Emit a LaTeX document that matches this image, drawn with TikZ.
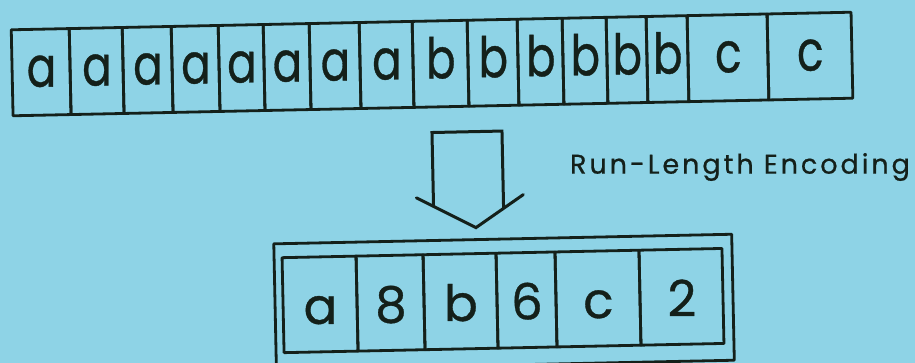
\documentclass[tikz,border=0pt]{standalone}
\usepackage{fontspec}
\setmainfont{Poppins}
\newfontfamily\inkfont{Poppins}[FakeBold=0.7]
\usepackage{graphicx}
\definecolor{bg}{HTML}{8ED3E6}
\definecolor{ink}{HTML}{14201A}
\newcommand{\narrow}[1]{\scalebox{0.78}[1]{#1}}
\begin{document}
\begin{tikzpicture}[x=1pt,y=-1pt,
  cellline/.style={draw=ink, line width=2.8pt, line join=round},
  arrowline/.style={draw=ink, line width=3pt, line join=miter, line cap=round},
  biglet/.style={anchor=base, font=\inkfont\fontsize{56}{56}\selectfont, text=ink, inner sep=0pt},
  smalllet/.style={anchor=base, font=\inkfont\fontsize{50}{50}\selectfont, text=ink, inner sep=0pt},
  labeltext/.style={anchor=base west, font=\inkfont\fontsize{27}{27}\selectfont\addfontfeature{LetterSpace=11}, text=ink, inner sep=0pt}]
\fill[bg] (0,0) rectangle (915,363);
\useasboundingbox (0,0) rectangle (915,363);
\begin{scope}[rotate around={1.2:(457,181)}]
  % top row: 16 cells
  \foreach \l/\r/\c [count=\i] in {14.5/72.5/a, 72.5/125.5/a, 125.5/174.5/a, 174.5/221.5/a,
      221.5/266.5/a, 266.5/312.5/a, 312.5/362.5/a, 362.5/415.5/a,
      415.5/470.5/b, 470.5/520.5/b, 520.5/565.5/b, 565.5/609.5/b,
      609.5/649.5/b, 649.5/690.5/b, 690.5/770.5/c, 770.5/854.5/c} {
    \draw[cellline] (\l,20.5) rectangle (\r,106.5);
    \node[biglet] (t\i) at ({(\l+\r)/2},78) {\narrow{\c}};
  }
  % arrow
  \draw[arrowline] (416,197) -- (475,228) -- (523,196);
  \draw[arrowline] (433,206) -- (433,132) -- (503,132) -- (503,209);
  % label
  \node[labeltext] (rle) at (570,176) {Run-Length Encoding};
  % bottom box
  \draw[cellline] (272.5,240) rectangle (730.5,366);
  \foreach \l/\r/\c [count=\i] in {280.5/354.5/a, 354.5/421.5/8, 421.5/494.5/b,
      494.5/553.5/6, 553.5/637.5/c, 637.5/720.5/2} {
    \draw[cellline] (\l,254) rectangle (\r,349);
    \node[smalllet] (s\i) at ({(\l+\r)/2},321) {\c};
  }
\end{scope}
\end{tikzpicture}
\end{document}
